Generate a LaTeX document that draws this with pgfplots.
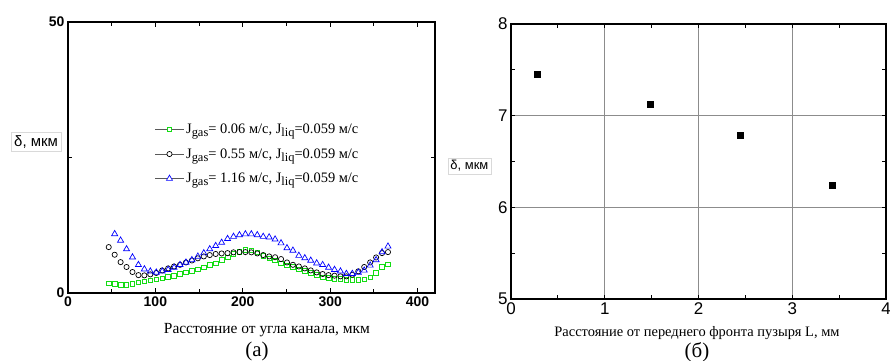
\documentclass[border=0pt]{standalone}
\usepackage{fontspec}
\setmainfont{Liberation Serif}
\setsansfont{Liberation Sans}
\usepackage{pgfplots}
\usepackage{pgfplotstable}
\pgfplotsset{compat=1.18}

\pgfplotstableread{
x g b t
46.6 1.8 8.47 nan
53.4 1.65 7.06 10.9
60.2 1.55 5.7 9.7
67.0 1.55 4.8 8.1
73.8 1.65 3.87 6.6
80.6 1.95 3.3 5.2
87.4 2.15 3.25 4.4
94.2 2.3 3.44 4.0
101.0 2.5 3.7 3.8
107.8 2.7 4.17 4.0
114.6 2.94 4.54 4.3
121.4 3.19 4.9 4.7
128.2 3.5 5.2 5.2
135.0 3.8 5.64 5.64
141.8 4.1 6.0 6.1
148.6 4.4 6.4 6.75
155.4 4.7 6.75 7.36
162.2 5.15 7.0 8.1
169.0 5.5 7.2 8.7
175.8 6.1 7.3 9.3
182.6 6.56 7.36 10.0
189.4 7.2 7.5 10.4
196.2 7.6 7.55 10.7
203.0 8.0 7.55 10.86
209.8 7.9 7.5 10.86
216.6 7.5 7.3 10.7
223.4 6.9 7.0 10.4
230.2 6.4 6.75 10.3
237.0 6.0 6.6 9.9
243.8 5.5 6.26 9.2
250.6 5.1 5.64 8.3
257.4 4.8 5.2 7.85
264.2 4.4 4.9 6.9
271.0 4.05 4.54 6.44
277.8 3.7 4.17 6.0
284.6 3.3 3.8 5.5
291.4 2.9 3.5 5.2
298.2 2.76 3.3 4.7
305.0 2.6 3.2 4.3
311.8 2.6 3.07 4.0
318.6 2.45 3.07 3.56
325.4 2.45 3.37 3.56
332.2 2.45 4.0 3.8
339.0 2.5 4.8 4.17
345.8 2.9 5.64 5.1
352.6 3.7 6.56 6.1
359.4 4.8 7.36 7.55
366.2 5.25 7.55 8.6
}\filmdata

\pgfplotstableread{
x y
0.28 7.45
1.48 7.13
2.45 6.79
3.43 6.24
}\rightdata

\definecolor{mygreen}{RGB}{20,220,20}
\definecolor{myblue}{RGB}{0,0,255}
\newcommand{\sub}[1]{\raisebox{-0.45ex}{\fontsize{12.5}{12.5}\selectfont #1}}

\begin{document}
\begin{tikzpicture}
\useasboundingbox (0,0) rectangle (890bp,361bp);
\begin{axis}[
  at={(68bp,68bp)}, anchor=south west, scale only axis,
  width=367bp, height=271bp, clip=false,
  xmin=0, xmax=420, ymin=0, ymax=50,
  xtick={0,100,200,300,400}, minor xtick={50,150,250,350},
  ytick={0,50}, minor ytick={25},
  tick align=inside,
  axis line style={line width=1.6pt},
  major tick length=5bp, minor tick length=4bp,
  every tick/.style={black, line width=1pt},
  tick label style={font=\sffamily\bfseries\fontsize{14}{14}\selectfont},
  /pgf/number format/assume math mode=true,
  ylabel={δ, мкм},
  ylabel style={rotate=-90, at={(rel axis cs:-0.087,0.557)}, anchor=center,
    draw=black!15, fill=white, inner sep=3bp,
    font=\sffamily\fontsize{15}{15}\selectfont},
  xlabel={Расстояние от угла канала, мкм},
  xlabel style={at={(rel axis cs:0.542,-0.137)}, anchor=center,
    font=\fontsize{15.5}{16}\selectfont},
  legend style={at={(rel axis cs:0.236,0.632)}, anchor=north west,
    draw=none, fill=none, row sep=9.5bp, inner sep=0pt,
    font=\fontsize{14.5}{15}\selectfont},
  legend cell align=left,
  legend image code/.code={
    \draw[black!65, line width=1pt, mark=none] (0cm,0cm) -- (0.4cm,0cm);
    \draw[black!65, line width=1pt, mark=none] (0.6cm,0cm) -- (1cm,0cm);
    \draw plot coordinates {(0.5cm,0cm)};
  },
]
\addplot[only marks, mark=square, mark size=2.3bp, color=mygreen, line width=0.7pt]
  table[x=x, y=g] {\filmdata};
\addlegendentry{J\sub{gas}= 0.06 м/с, J\sub{liq}=0.059 м/с}
\addplot[only marks, mark=o, mark size=2.6bp, color=black, line width=0.7pt]
  table[x=x, y=b] {\filmdata};
\addlegendentry{J\sub{gas}= 0.55 м/с, J\sub{liq}=0.059 м/с}
\addplot[only marks, mark=triangle, mark size=3.5bp, color=myblue, line width=0.7pt]
  table[x=x, y=t] {\filmdata};
\addlegendentry{J\sub{gas}= 1.16 м/с, J\sub{liq}=0.059 м/с}
\node[font=\fontsize{21}{21}\selectfont] at (rel axis cs:0.515,-0.217) {(a)};
\end{axis}

\begin{axis}[
  at={(511bp,62bp)}, anchor=south west, scale only axis,
  width=375bp, height=275bp, clip=false,
  xmin=0, xmax=4, ymin=5, ymax=8,
  xtick={0,1,2,3,4}, ytick={5,6,7,8},
  minor xtick={0.5,1.5,2.5,3.5}, minor ytick={5.5,6.5,7.5},
  grid=major, major grid style={black!45, line width=0.6pt},
  tick align=inside,
  axis line style={line width=1.3pt},
  major tick length=4bp, minor tick length=4bp,
  every tick/.style={black, line width=1pt},
  tick label style={font=\sffamily\fontsize{17}{17}\selectfont},
  /pgf/number format/assume math mode=true,
  ylabel={δ, мкм},
  ylabel style={rotate=-90, at={(rel axis cs:-0.111,0.484)}, anchor=center,
    draw=black!15, fill=white, inner sep=2.5bp,
    font=\sffamily\fontsize{13}{13}\selectfont},
  xlabel={Расстояние от переднего фронта пузыря L, мм},
  xlabel style={at={(rel axis cs:0.496,-0.124)}, anchor=center,
    font=\fontsize{14.5}{15}\selectfont},
]
\addplot[only marks, mark=square*, mark size=3bp, color=black]
  table[x=x, y=y] {\rightdata};
\node[font=\fontsize{21}{21}\selectfont] at (rel axis cs:0.496,-0.192) {(б)};
\end{axis}
\end{tikzpicture}
\end{document}
